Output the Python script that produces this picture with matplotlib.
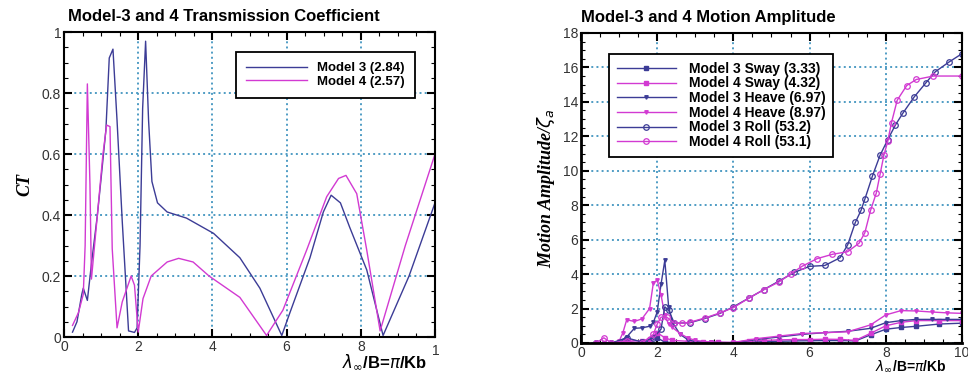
import numpy as np
import matplotlib.pyplot as plt
from matplotlib.ticker import MultipleLocator
from matplotlib.transforms import Bbox, TransformedBbox

BLUE = "#3c3c96"
MAGENTA = "#d23ad2"
GRID = "#4f9cc4"

# ---- transmission coefficient (left panel) ----
ct3_x = [0.23, 0.35, 0.48, 0.52, 0.63, 0.75, 0.9, 1.0, 1.13, 1.22, 1.32, 1.43, 1.57, 1.74,
         1.9, 1.97, 2.05, 2.12, 2.2, 2.28, 2.37, 2.52, 2.78, 3.3, 4.03, 4.74, 5.28, 5.87,
         6.09, 6.63, 6.99, 7.2, 7.45, 7.7, 8.16, 8.6, 9.3, 10.0]
ct3_y = [0.016, 0.05, 0.14, 0.16, 0.12, 0.25, 0.4, 0.52, 0.68, 0.915, 0.944, 0.71, 0.38, 0.02,
         0.015, 0.03, 0.3, 0.75, 0.97, 0.71, 0.51, 0.44, 0.41, 0.39, 0.34, 0.26, 0.16, 0.005,
         0.08, 0.26, 0.41, 0.465, 0.44, 0.36, 0.22, 0.005, 0.2, 0.44]

ct4_x = [0.23, 0.39, 0.52, 0.57, 0.63, 0.7, 0.74, 0.9, 1.05, 1.15, 1.24, 1.3, 1.43, 1.57,
         1.81, 1.9, 2.0, 2.13, 2.35, 2.78, 3.09, 3.48, 3.91, 4.74, 5.46, 5.9, 6.54, 7.08,
         7.4, 7.6, 7.89, 8.16, 8.52, 9.2, 10.0]
ct4_y = [0.038, 0.08, 0.14, 0.3, 0.83, 0.5, 0.19, 0.4, 0.6, 0.695, 0.69, 0.29, 0.03, 0.115,
         0.2, 0.17, 0.016, 0.126, 0.2, 0.246, 0.258, 0.246, 0.2, 0.13, 0.005, 0.088, 0.285, 0.46,
         0.52, 0.53, 0.47, 0.285, 0.02, 0.3, 0.6]

# ---- motion amplitude (right panel) ----
sway_x = [0.4, 0.8, 1.2, 1.6, 1.8, 2.0, 2.2, 2.4, 2.8, 3.2, 3.6, 4.0, 4.4, 4.8, 5.2, 5.6,
          6.0, 6.4, 6.8, 7.2, 7.6, 8.0, 8.4, 8.8, 9.4, 10.0]
sway3_y = [0.0, 0.0, 0.05, 0.02, 0.1, 0.3, 0.05, 0.02, 0.0, 0.0, 0.0, 0.0, 0.05, 0.08, 0.1, 0.12,
           0.13, 0.14, 0.14, 0.12, 0.47, 0.8, 0.9, 0.97, 1.1, 1.15]
sway4_y = [0.0, 0.0, 0.2, 0.1, 0.25, 0.6, 0.3, 0.15, 0.1, 0.05, 0.03, 0.02, 0.1, 0.15, 0.18, 0.2,
           0.2, 0.22, 0.21, 0.15, 0.56, 1.0, 1.2, 1.3, 1.3, 1.3]

heave3_x = [0.4, 0.6, 0.8, 1.0, 1.2, 1.4, 1.6, 1.8, 1.9, 2.0, 2.1, 2.2, 2.3, 2.4, 2.6, 2.8,
            3.0, 3.4, 4.0, 4.6, 5.2, 5.8, 6.4, 7.0, 7.6, 8.0, 8.4, 8.8, 9.2, 9.6, 10.0]
heave3_y = [0.0, 0.0, 0.02, 0.05, 0.35, 0.85, 0.88, 0.97, 1.2, 1.8, 3.4, 4.8, 2.1, 1.2, 0.5, 0.2,
            0.08, 0.03, 0.02, 0.2, 0.35, 0.5, 0.6, 0.68, 0.85, 1.18, 1.3, 1.37, 1.37, 1.37, 1.37]

heave4_x = [0.4, 0.6, 0.8, 1.0, 1.1, 1.2, 1.4, 1.6, 1.8, 1.9, 2.0, 2.1, 2.2, 2.3, 2.4, 2.6,
            2.8, 3.0, 3.4, 4.0, 4.6, 5.2, 5.8, 6.4, 7.0, 7.6, 8.0, 8.4, 8.8, 9.2, 9.6, 10.0]
heave4_y = [0.0, 0.0, 0.02, 0.1, 0.6, 1.35, 1.25, 1.4, 2.0, 3.5, 3.65, 2.8, 1.6, 1.1, 0.9, 0.55,
            0.3, 0.15, 0.05, 0.03, 0.25, 0.4, 0.55, 0.6, 0.65, 1.05, 1.63, 1.88, 1.86, 1.8, 1.75, 1.72]

roll3_x = [0.4, 0.8, 1.2, 1.6, 1.9, 2.1, 2.2, 2.3, 2.45, 2.85, 3.25, 3.65, 4.0, 4.4, 4.8, 5.2,
           5.6, 6.0, 6.4, 6.8, 7.0, 7.2, 7.35, 7.45, 7.65, 7.85, 8.05, 8.25, 8.45, 8.75, 9.05,
           9.3, 9.65, 10.0]
roll3_y = [0.0, 0.0, 0.3, 0.05, 0.3, 0.8, 2.1, 1.9, 1.15, 1.17, 1.42, 1.72, 2.1, 2.6, 3.1, 3.6,
           4.1, 4.45, 4.5, 4.95, 5.7, 7.0, 7.7, 8.35, 9.7, 10.9, 11.8, 12.65, 13.35, 14.3, 15.1,
           15.75, 16.3, 16.8]

roll4_x = [0.4, 0.6, 0.8, 1.2, 1.6, 1.9, 2.0, 2.1, 2.25, 2.45, 2.65, 2.85, 3.25, 3.65, 4.0, 4.4,
           4.8, 5.2, 5.5, 5.8, 6.2, 6.6, 7.0, 7.3, 7.45, 7.6, 7.75, 7.85, 7.95, 8.05, 8.15, 8.3,
           8.55, 8.8, 9.25, 10.0]
roll4_y = [0.0, 0.3, 0.0, 0.1, 0.0, 0.5, 1.1, 1.5, 1.5, 1.15, 1.15, 1.2, 1.45, 1.75, 2.05, 2.6,
           3.1, 3.55, 4.0, 4.45, 4.9, 5.15, 5.3, 5.8, 6.4, 7.7, 8.7, 9.8, 10.9, 11.7, 12.8, 14.1,
           14.95, 15.3, 15.5, 15.5]

plt.rcParams["font.family"] = ["Liberation Sans", "DejaVu Sans"]

fig = plt.figure(figsize=(9.68, 3.76), dpi=100)
ax1 = fig.add_axes([0.0661, 0.1037, 0.3833, 0.811])
ax2 = fig.add_axes([0.6002, 0.0878, 0.3936, 0.8245])


def style_axes(ax, ymajor, yminor):
    ax.set_xlim(0, 10)
    ax.xaxis.set_major_locator(MultipleLocator(2))
    ax.xaxis.set_minor_locator(MultipleLocator(0.5))
    ax.yaxis.set_major_locator(MultipleLocator(ymajor))
    ax.yaxis.set_minor_locator(MultipleLocator(yminor))
    ax.tick_params(which="both", direction="in", top=True, right=True, colors="black",
                   labelcolor="#333333", labelsize=10)
    ax.tick_params(which="major", length=6, width=1.5, pad=2)
    ax.tick_params(which="minor", length=3, width=0.8)
    ax.grid(which="major", color=GRID, linestyle=":", linewidth=1.4)
    for sp in ax.spines.values():
        sp.set_linewidth(1.5)


# left panel
ax1.plot(ct3_x, ct3_y, color=BLUE, lw=1.0, label="Model 3 (2.84)")
ax1.plot(ct4_x, ct4_y, color=MAGENTA, lw=1.0, label="Model 4 (2.57)")
style_axes(ax1, 0.2, 0.05)
ax1.set_ylim(0, 1)
ax1.set_yticks([0, 0.2, 0.4, 0.6, 0.8, 1.0])
ax1.set_yticklabels(["0", "0.2", "0.4", "0.6", "0.8", "1"])
ax1.set_xticks([0, 2, 4, 6, 8, 10])
ax1.set_xticklabels(["0", "2", "4", "6", "8", ""])
# the "10" label is cut by the panel edge in the original
t10 = fig.text(440 / 968, 1 - 351 / 376, "10", ha="center", va="center",
               fontsize=10, color="#333333")
t10.set_clip_box(TransformedBbox(Bbox([[0, 0], [439 / 968, 1]]), fig.transFigure))
t10.set_clip_on(True)

ax1.set_title("Model-3 and 4 Transmission Coefficient", loc="left", x=0.01,
              fontsize=12, fontweight="bold", pad=8)
ax1.set_ylabel("CT", fontsize=13, fontweight="bold", style="italic",
               family="Liberation Serif", labelpad=6)
ax1.text(0.98, -0.08, r"$\lambda_{\infty}$/B=$\pi$/Kb", transform=ax1.transAxes,
         ha="right", va="center", fontsize=12, fontweight="bold")
leg1 = ax1.legend(loc="upper left", bbox_to_anchor=(0.4636, 0.934), borderaxespad=0,
                  prop={"weight": "bold", "size": 9.5}, handlelength=4.6,
                  handletextpad=0.8, borderpad=0.75, labelspacing=0.1,
                  fancybox=False, framealpha=1)
leg1.get_frame().set_edgecolor("black")
leg1.get_frame().set_linewidth(1.3)

# right panel
ax2.plot(sway_x, sway3_y, color=BLUE, lw=1.0, marker="s", ms=3, label="Model 3 Sway (3.33)")
ax2.plot(sway_x, sway4_y, color=MAGENTA, lw=1.0, marker="s", ms=3, label="Model 4 Sway (4.32)")
ax2.plot(heave3_x, heave3_y, color=BLUE, lw=1.0, marker="v", ms=2.5, label="Model 3 Heave (6.97)")
ax2.plot(heave4_x, heave4_y, color=MAGENTA, lw=1.0, marker="v", ms=2.5, label="Model 4 Heave (8.97)")
ax2.plot(roll3_x, roll3_y, color=BLUE, lw=1.0, marker="o", ms=4, mfc="none", mew=0.9,
         label="Model 3 Roll (53.2)")
ax2.plot(roll4_x, roll4_y, color=MAGENTA, lw=1.0, marker="o", ms=4, mfc="none", mew=0.9,
         label="Model 4 Roll (53.1)")
style_axes(ax2, 2, 0.5)
ax2.set_ylim(0, 18)
ax2.set_xticks([0, 2, 4, 6, 8, 10])
ax2.spines["left"].set_linewidth(2)
ax2.spines["bottom"].set_linewidth(2)
ax2.set_title("Model-3 and 4 Motion Amplitude", loc="left", x=0.0,
              fontsize=12, fontweight="bold", pad=8)
ax2.set_ylabel(r"Motion Amplitude/$\zeta_a$", fontsize=13, fontweight="bold",
               style="italic", family="Liberation Serif", labelpad=4)
ax2.text(0.96, -0.075, r"$\lambda_{\infty}$/B=$\pi$/Kb", transform=ax2.transAxes,
         ha="right", va="center", fontsize=10, fontweight="bold")
leg2 = ax2.legend(loc="upper left", bbox_to_anchor=(0.0735, 0.932), borderaxespad=0,
                  prop={"weight": "bold", "size": 10}, handlelength=4.3,
                  handletextpad=0.9, borderpad=0.55, labelspacing=0.05,
                  fancybox=False, framealpha=1)
leg2.get_frame().set_edgecolor("black")
leg2.get_frame().set_linewidth(1.3)

fig.savefig("out.png", dpi=100)
